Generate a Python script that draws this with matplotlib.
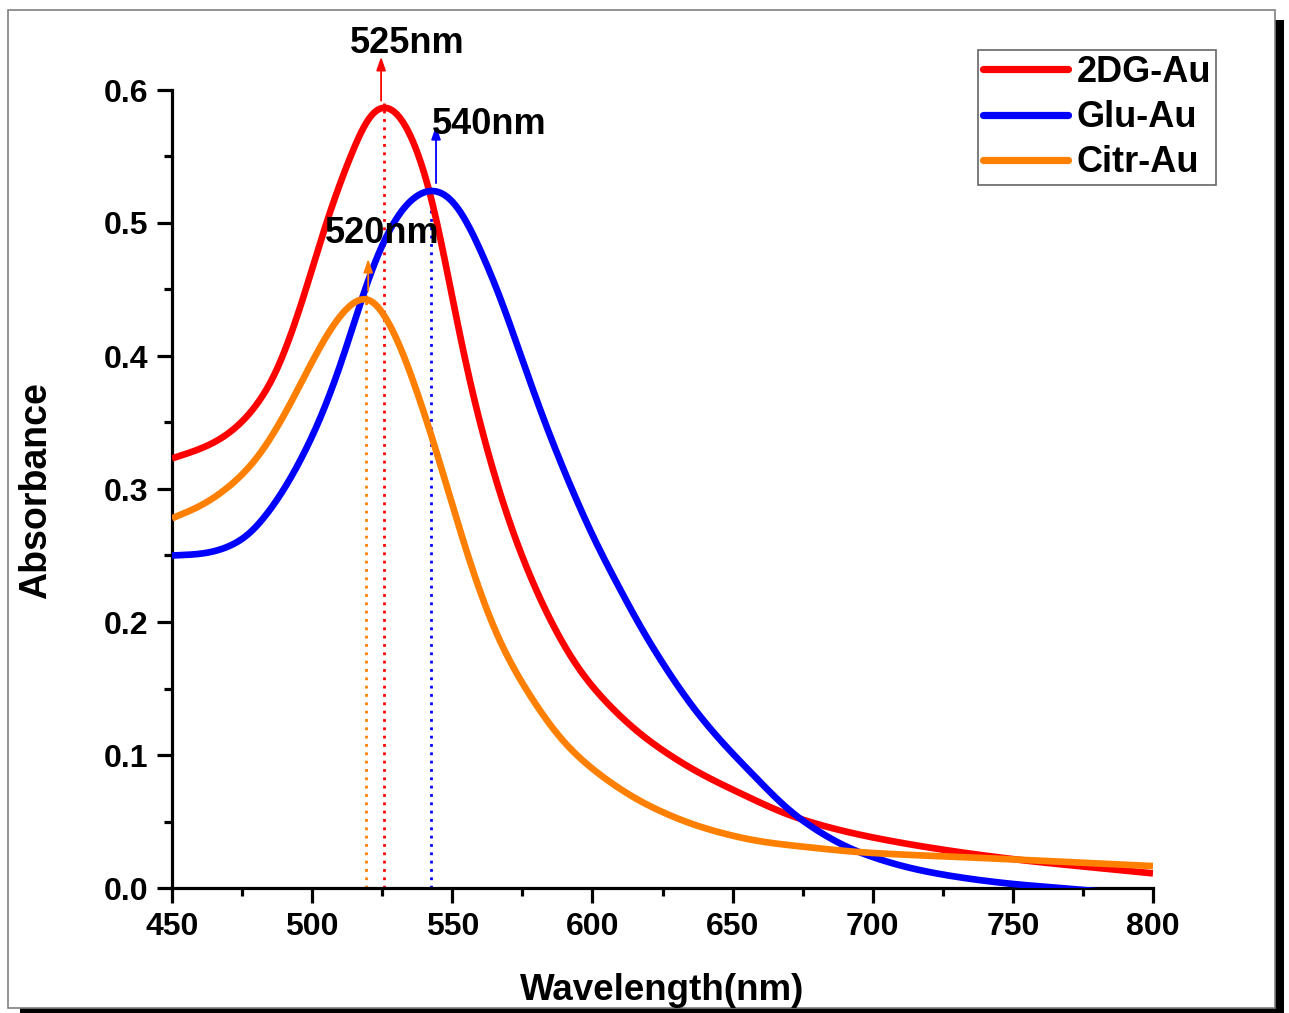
import matplotlib
matplotlib.use("Agg")
import matplotlib.pyplot as plt
from matplotlib.patches import Rectangle
import numpy as np

plt.rcParams['font.family'] = ['Liberation Sans', 'DejaVu Sans']
plt.rcParams['font.weight'] = 'bold'

# Data
wl_red = [450, 460, 467, 475, 481, 487, 492, 497, 503, 509, 515, 520.5, 526, 532, 538.5, 543,
          548.5, 556, 566, 572, 579, 585, 591, 597, 603, 612, 620, 636, 650, 674, 700, 745, 800]
abs_red = [0.323, 0.330, 0.337, 0.350, 0.365, 0.386, 0.413, 0.444, 0.487, 0.525, 0.557, 0.583,
           0.590, 0.580, 0.550, 0.518, 0.460, 0.382, 0.303, 0.265, 0.228, 0.201, 0.178, 0.159,
           0.144, 0.125, 0.111, 0.089, 0.074, 0.052, 0.038, 0.023, 0.011]

wl_blue = [450, 460, 467, 476, 485, 491, 497, 503, 509, 515, 520.6, 526.7, 532.4, 537,
           542.5, 548, 553.5, 560, 567, 575, 583, 591, 600, 609, 620, 638, 656, 674, 695,
           720, 750, 767, 800]
abs_blue = [0.250, 0.251, 0.254, 0.263, 0.284, 0.303, 0.326, 0.353, 0.386, 0.425, 0.462,
            0.492, 0.512, 0.521, 0.526, 0.522, 0.508, 0.480, 0.445, 0.397, 0.350, 0.308,
            0.265, 0.228, 0.186, 0.130, 0.088, 0.052, 0.027, 0.012, 0.003, 0.000, -0.006]

wl_orange = [450, 460, 470, 480, 491, 499, 506.4, 512.4, 519.5, 528.9, 536, 542.8, 549.2, 557,
             566.5, 578.8, 590.9, 604, 620, 640, 660, 680, 695, 745, 800]
abs_orange = [0.278, 0.287, 0.301, 0.322, 0.359, 0.392, 0.420, 0.437, 0.446, 0.420, 0.382, 0.339,
              0.294, 0.240, 0.187, 0.141, 0.107, 0.083, 0.062, 0.045, 0.035, 0.030, 0.027,
              0.022, 0.0165]

labels = ['2DG-Au', 'Glu-Au', 'Citr-Au']
colors = ['#ff0000', '#0000ff', '#ff8000']
peaks = [525.5, 542.5, 519.2]
peak_vals = [0.590, 0.526, 0.446]
peak_texts = ['525nm', '540nm', '520nm']


def pchip(x, y, xs):
    x = np.asarray(x, float)
    y = np.asarray(y, float)
    h = np.diff(x)
    d = np.diff(y) / h
    n = len(x)
    m = np.zeros(n)
    for k in range(1, n - 1):
        if d[k - 1] * d[k] > 0:
            w1 = 2 * h[k] + h[k - 1]
            w2 = h[k] + 2 * h[k - 1]
            m[k] = (w1 + w2) / (w1 / d[k - 1] + w2 / d[k])
    m[0] = d[0]
    m[-1] = d[-1]
    idx = np.clip(np.searchsorted(x, xs) - 1, 0, n - 2)
    t = (xs - x[idx]) / h[idx]
    h00 = 2 * t ** 3 - 3 * t ** 2 + 1
    h10 = t ** 3 - 2 * t ** 2 + t
    h01 = -2 * t ** 3 + 3 * t ** 2
    h11 = t ** 3 - t ** 2
    return h00 * y[idx] + h10 * h[idx] * m[idx] + h01 * y[idx + 1] + h11 * h[idx] * m[idx + 1]


def smooth_curve(x, y, sigma=3.5, step=0.25):
    xs = np.arange(x[0], x[-1] + step / 2, step)
    ys = pchip(x, y, xs)
    half = int(4 * sigma / step)
    k = np.exp(-0.5 * (np.arange(-half, half + 1) * step / sigma) ** 2)
    k /= k.sum()
    left = ys[0] - (ys[1] - ys[0]) * np.arange(half, 0, -1)
    right = ys[-1] + (ys[-1] - ys[-2]) * np.arange(1, half + 1)
    pad = np.concatenate([left, ys, right])
    return xs, np.convolve(pad, k, mode='valid')


fig = plt.figure(figsize=(12.89, 10.13), dpi=100)

# outer frame with shadow
fig.patches.append(Rectangle((20 / 1289, 0), 1264 / 1289, (1013 - 20) / 1013,
                             transform=fig.transFigure, facecolor='black', edgecolor='none', zorder=0))
fig.patches.append(Rectangle((8 / 1289, 5 / 1013), 1267 / 1289, (1013 - 15) / 1013,
                             transform=fig.transFigure, facecolor='white', edgecolor='#808080',
                             linewidth=1.2, zorder=1))

ax = fig.add_axes([172 / 1289, 1 - 888 / 1013, (1153 - 172) / 1289, (888 - 90) / 1013])
ax.set_zorder(2)
ax.patch.set_alpha(0)

for (x, y), lab, c in zip([(wl_red, abs_red), (wl_blue, abs_blue), (wl_orange, abs_orange)],
                          labels, colors):
    xs, ys = smooth_curve(x, y)
    ax.plot(xs, ys, color=c, lw=4.8, label=lab, solid_capstyle='butt', zorder=3)

# dotted peak lines
for p, v, c in zip(peaks, peak_vals, colors):
    ax.plot([p, p], [0, v], color=c, lw=2.0, ls=(0, (1, 2)), zorder=2)

# arrows
arrow_specs = [(524.6, 0.592, 0.625, colors[0]), (544.2, 0.530, 0.573, colors[1]),
               (520.0, 0.449, 0.473, colors[2])]
for x0, y0, y1, c in arrow_specs:
    ax.annotate('', xy=(x0, y1), xytext=(x0, y0),
                arrowprops=dict(arrowstyle='-|>,head_length=0.8,head_width=0.28', color=c, lw=1.3,
                                shrinkA=0, shrinkB=0),
                annotation_clip=False, zorder=4)

ax.text(533.8, 0.635, peak_texts[0], fontsize=26, fontweight='bold', ha='center', va='center', zorder=5)
ax.text(542.6, 0.574, peak_texts[1], fontsize=26, fontweight='bold', ha='left', va='center', zorder=5)
ax.text(504.6, 0.492, peak_texts[2], fontsize=26, fontweight='bold', ha='left', va='center', zorder=5)

ax.set_xlim(450, 800)
ax.set_ylim(0, 0.6)
ax.set_xticks([450, 500, 550, 600, 650, 700, 750, 800])
ax.set_xticks(np.arange(475, 800, 50), minor=True)
ax.set_yticks([0.0, 0.1, 0.2, 0.3, 0.4, 0.5, 0.6])
ax.set_yticks(np.arange(0.05, 0.6, 0.1), minor=True)
ax.set_yticklabels(['0.0', '0.1', '0.2', '0.3', '0.4', '0.5', '0.6'])

for s in ['top', 'right']:
    ax.spines[s].set_visible(False)
for s in ['left', 'bottom']:
    ax.spines[s].set_linewidth(2.3)

ax.tick_params(axis='both', which='major', direction='out', length=11, width=2.3,
               labelsize=23, pad=6)
ax.tick_params(axis='both', which='minor', direction='out', length=6, width=2.3)
for t in ax.get_xticklabels() + ax.get_yticklabels():
    t.set_fontweight('bold')

ax.set_xlabel('Wavelength(nm)', fontsize=26.5, fontweight='bold')
ax.set_ylabel('Absorbance', fontsize=27, fontweight='bold')
ax.xaxis.label.set_verticalalignment('center')
ax.yaxis.label.set_verticalalignment('center')
ax.xaxis.set_label_coords(0.4995, -(990 - 888) / 798)
ax.yaxis.set_label_coords((36 - 172) / 981, 0.4975)

leg = ax.legend(loc='upper right', bbox_to_anchor=(1216 / 1289, 1 - 50 / 1013),
                bbox_transform=fig.transFigure, frameon=True, fancybox=False,
                handlelength=2.35, handletextpad=0.24, borderpad=0.14, labelspacing=0.28,
                borderaxespad=0, prop={'weight': 'bold', 'size': 26})
leg.get_frame().set_edgecolor('#404040')
leg.get_frame().set_linewidth(1.2)
for line in leg.get_lines():
    line.set_linewidth(5.2)
    line.set_solid_capstyle('round')

fig.savefig('out.png', dpi=100)
